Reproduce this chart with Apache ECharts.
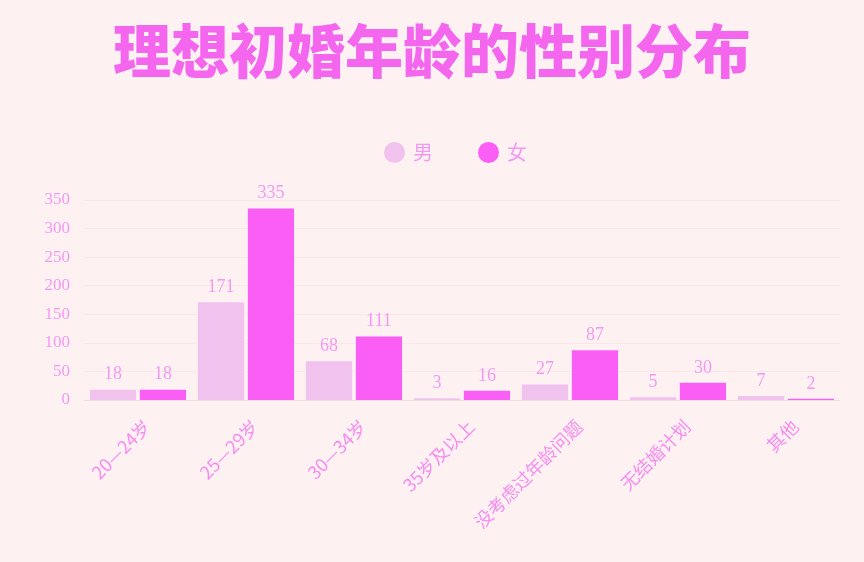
<!DOCTYPE html>
<html><head><meta charset="utf-8">
<script src="https://cdn.jsdelivr.net/npm/echarts@6/dist/echarts.min.js"></script>
<style>html,body{margin:0;padding:0;background:#fdf1f1;}#c{width:864px;height:562px;}</style>
</head><body><div id="c"></div>
<script>
const categories = ['20—24岁','25—29岁','30—34岁','35岁及以上','没考虑过年龄问题','无结婚计划','其他'];
const male = [18,171,68,3,27,5,7];
const female = [18,335,111,16,87,30,2];
const yTicks = [0,50,100,150,200,250,300,350];
const seriesNames = ['男','女'];

const chart = echarts.init(document.getElementById('c'));
const labelFont = {color:'#f39af0', fontFamily:'Liberation Serif, DejaVu Serif, serif', fontSize:18};
chart.setOption({
  backgroundColor:'#fdf1f1',
  title:{text:'理想初婚年龄的性别分布', left:'center', top:17,
    textStyle:{color:'#f566ef', fontSize:58, fontWeight:900, fontFamily:'Noto Sans CJK SC, sans-serif'}},
  legend:{data:seriesNames, top:137, left:379, itemGap:45, icon:'circle', itemWidth:21, itemHeight:21,
    textStyle:{color:'#f39af0', fontSize:20, padding:[0,0,0,3], fontFamily:'Noto Sans CJK SC, serif'}},
  grid:{left:84, right:24, top:200, bottom:162, containLabel:false},
  xAxis:{type:'category', data:categories,
    axisLine:{lineStyle:{color:'#f3dbe6'}}, axisTick:{show:false},
    axisLabel:{rotate:45, color:'#f78cf0', fontSize:18, margin:14, interval:0, verticalAlign:'top', padding:[4,0,0,0],
      fontFamily:'Noto Sans CJK SC, sans-serif'}},
  yAxis:{type:'value', min:yTicks[0], max:yTicks[yTicks.length-1], interval:50,
    axisLine:{show:false}, axisTick:{show:false},
    axisLabel:{color:'#f39af0', fontSize:17, margin:14, fontFamily:'Liberation Serif, DejaVu Serif, serif'},
    splitLine:{lineStyle:{color:'#f8e6e8'}}},
  series:[
    {name:seriesNames[0], type:'bar', data:male, barGap:'8%', barCategoryGap:'11%',
      itemStyle:{color:'#f1c2ee'}, label:Object.assign({show:true, position:'top', distance:6}, labelFont)},
    {name:seriesNames[1], type:'bar', data:female, barGap:'8%', barCategoryGap:'11%',
      itemStyle:{color:'#fa5ef4'}, label:Object.assign({show:true, position:'top', distance:6}, labelFont)}
  ]
});
</script></body></html>
